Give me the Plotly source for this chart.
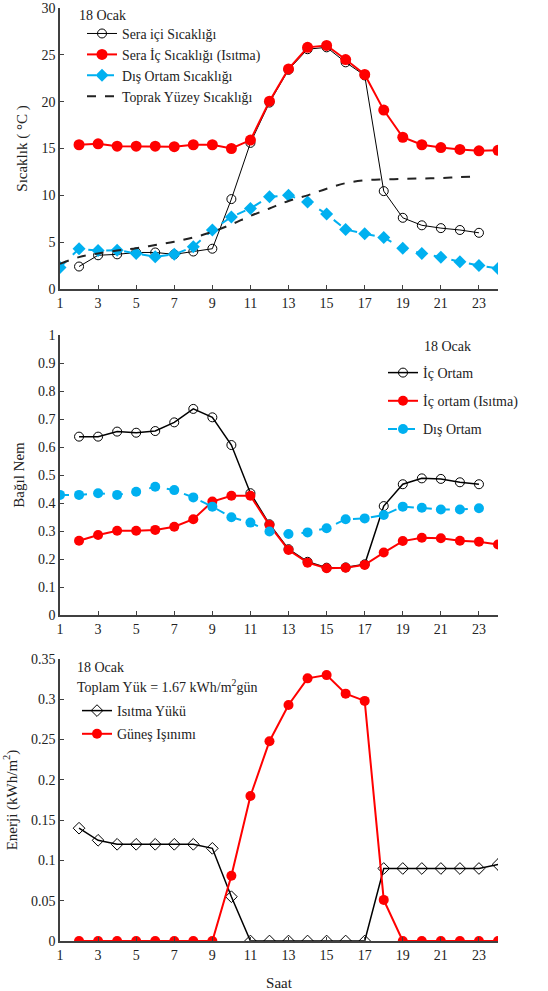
import plotly.graph_objects as go

# ---------------- data ----------------
hours_all = list(range(1, 25))
hours_2_23 = list(range(2, 24))
hours_2_24 = list(range(2, 25))
hours_1_23 = list(range(1, 24))

# Panel 1: temperature (°C)
sera_ici = [2.4, 3.6, 3.7, 3.9, 3.9, 3.7, 4.0, 4.3, 9.6, 15.6, 19.9, 23.4, 25.6, 25.8,
            24.2, 22.8, 10.45, 7.6, 6.8, 6.5, 6.3, 6.0]                       # h 2..23
sera_isitma = [15.4, 15.5, 15.25, 15.25, 15.25, 15.2, 15.4, 15.4, 15.0, 15.9, 20.05, 23.5,
               25.8, 26.0, 24.5, 22.9, 19.1, 16.2, 15.4, 15.1, 14.9, 14.75, 14.8]  # h 2..24
dis_ortam = [2.3, 4.3, 4.1, 4.15, 3.8, 3.45, 3.7, 4.5, 6.3, 7.7, 8.6, 9.85, 10.0, 9.3,
             8.0, 6.35, 5.9, 5.5, 4.35, 3.8, 3.4, 2.9, 2.5, 2.2]                # h 1..24
toprak = [2.7, 3.4, 3.8, 4.1, 4.35, 4.7, 5.05, 5.5, 6.1, 6.9, 7.8, 8.6, 9.4, 10.0, 10.7,
          11.3, 11.6, 11.7, 11.75, 11.8, 11.85, 11.95, 12.0]                     # h 1..23

# Panel 2: relative humidity
rh_ic = [0.637, 0.637, 0.655, 0.651, 0.657, 0.688, 0.736, 0.706, 0.607, 0.435, 0.324,
         0.235, 0.19, 0.169, 0.17, 0.181, 0.389, 0.467, 0.488, 0.486, 0.474, 0.467]   # h 2..23
rh_isitma = [0.265, 0.286, 0.301, 0.301, 0.304, 0.315, 0.342, 0.405, 0.426, 0.426, 0.321,
             0.232, 0.187, 0.167, 0.169, 0.179, 0.223, 0.264, 0.276, 0.274, 0.265, 0.262,
             0.252]                                                              # h 2..24
rh_dis = [0.429, 0.429, 0.435, 0.429, 0.44, 0.458, 0.446, 0.42, 0.387, 0.349, 0.33, 0.298,
          0.289, 0.295, 0.31, 0.342, 0.345, 0.357, 0.387, 0.383, 0.377, 0.377, 0.381]  # h 1..23

# Panel 3: energy (kWh/m2)
isitma_yuku = [0.14, 0.125, 0.12, 0.12, 0.12, 0.12, 0.12, 0.115, 0.055, 0, 0, 0, 0, 0, 0, 0,
               0.09, 0.09, 0.09, 0.09, 0.09, 0.09, 0.095]                         # h 2..24
gunes = [0, 0, 0, 0, 0, 0, 0, 0, 0.081, 0.18, 0.248, 0.293, 0.326, 0.33, 0.307, 0.298,
         0.051, 0, 0, 0, 0, 0, 0]                                                  # h 2..24

x_ticks = list(range(1, 24, 2))

# ---------------- figure ----------------
FONT = "Liberation Serif"
RED = "#FF0000"
BLUE = "#00B0F0"
AX = "#404040"
TXT = "#222222"

fig = go.Figure()

# Panel 1
fig.add_trace(go.Scatter(x=hours_2_23, y=sera_ici, name="Sera içi Sıcaklığı", mode="lines+markers",
                         line=dict(color="black", width=1),
                         marker=dict(symbol="circle-open", size=9, color="black", line=dict(width=1)),
                         xaxis="x", yaxis="y", legend="legend"))
fig.add_trace(go.Scatter(x=hours_2_24, y=sera_isitma, name="Sera İç Sıcaklığı (Isıtma)", mode="lines+markers",
                         line=dict(color=RED, width=2),
                         marker=dict(symbol="circle", size=11, color=RED),
                         xaxis="x", yaxis="y", legend="legend"))
fig.add_trace(go.Scatter(x=hours_all, y=dis_ortam, name="Dış Ortam Sıcaklığı", mode="lines+markers",
                         line=dict(color=BLUE, width=2, dash="dash"),
                         marker=dict(symbol="diamond", size=10, color=BLUE),
                         xaxis="x", yaxis="y", legend="legend"))
fig.add_trace(go.Scatter(x=hours_1_23, y=toprak, name="Toprak Yüzey Sıcaklığı", mode="lines",
                         line=dict(color="#222222", width=2, dash="dash", shape="spline"),
                         xaxis="x", yaxis="y", legend="legend"))

# Panel 2
fig.add_trace(go.Scatter(x=hours_2_23, y=rh_ic, name="İç Ortam", mode="lines+markers",
                         line=dict(color="black", width=1.5),
                         marker=dict(symbol="circle-open", size=9, color="black", line=dict(width=1)),
                         xaxis="x2", yaxis="y2", legend="legend2", legendgroup="a"))
fig.add_trace(go.Scatter(x=hours_2_24, y=rh_isitma, name="İç ortam (Isıtma)", mode="lines+markers",
                         line=dict(color=RED, width=2),
                         marker=dict(symbol="circle", size=10, color=RED),
                         xaxis="x2", yaxis="y2", legend="legend2", legendgroup="b"))
fig.add_trace(go.Scatter(x=hours_1_23, y=rh_dis, name="Dış Ortam", mode="lines+markers",
                         line=dict(color=BLUE, width=2, dash="dash"),
                         marker=dict(symbol="circle", size=10, color=BLUE),
                         xaxis="x2", yaxis="y2", legend="legend2", legendgroup="c"))

# Panel 3
fig.add_trace(go.Scatter(x=hours_2_24, y=isitma_yuku, name="Isıtma Yükü", mode="lines+markers",
                         line=dict(color="black", width=1.5),
                         marker=dict(symbol="diamond-open", size=9, color="black", line=dict(width=1)),
                         xaxis="x3", yaxis="y3", legend="legend3", legendgroup="d"))
fig.add_trace(go.Scatter(x=hours_2_24, y=gunes, name="Güneş Işınımı", mode="lines+markers",
                         line=dict(color=RED, width=2),
                         marker=dict(symbol="circle", size=10, color=RED),
                         xaxis="x3", yaxis="y3", legend="legend3", legendgroup="e"))

W, H = 548, 991
L, R, T, B = 60, 50, 8, 50
ph = H - T - B


def py(pix):
    return (H - B - pix) / ph


def px(pix):
    return (pix - L) / (W - L - R)


xcommon = dict(range=[1, 24], tickvals=x_ticks, showline=True, linecolor=AX, linewidth=1.5,
               ticks="inside", ticklen=4, tickcolor=AX, showgrid=False, zeroline=False,
               automargin=False, tickfont=dict(family=FONT, size=14, color=TXT))
ycommon = dict(showline=True, linecolor=AX, linewidth=1.5, ticks="inside", ticklen=4,
               tickcolor=AX, showgrid=False, zeroline=False, automargin=False,
               tickfont=dict(family=FONT, size=14, color=TXT))

legcommon = dict(bgcolor="rgba(0,0,0,0)", itemwidth=30, xanchor="left", yanchor="top")

fig.update_layout(
    width=W, height=H,
    margin=dict(l=L, r=R, t=T, b=B),
    paper_bgcolor="white", plot_bgcolor="white",
    font=dict(family=FONT, size=14, color=TXT),
    xaxis=dict(domain=[0, 1], anchor="y", **xcommon),
    yaxis=dict(domain=[py(289), 1], anchor="x", range=[0, 30], tickvals=[0, 5, 10, 15, 20, 25, 30],
               title=dict(text="Sıcaklık ( °C )", font=dict(family=FONT, size=15), standoff=10), **ycommon),
    xaxis2=dict(domain=[0, 1], anchor="y2", **xcommon),
    yaxis2=dict(domain=[py(615), py(335)], anchor="x2", range=[0, 1], dtick=0.1, tick0=0,
                title=dict(text="Bağıl Nem", font=dict(family=FONT, size=15), standoff=10), **ycommon),
    xaxis3=dict(domain=[0, 1], anchor="y3",
                title=dict(text="Saat", font=dict(family=FONT, size=15), standoff=17), **xcommon),
    yaxis3=dict(domain=[0, py(659)], anchor="x3", range=[0, 0.35], dtick=0.05, tick0=0,
                title=dict(text="Enerji (kWh/m<sup>2</sup>)", font=dict(family=FONT, size=15), standoff=10),
                **ycommon),
    legend=dict(x=px(82), y=py(18), font=dict(family=FONT, size=13.8, color=TXT),
                tracegroupgap=0, **legcommon),
    legend2=dict(x=px(383), y=py(357), font=dict(family=FONT, size=14, color=TXT),
                 tracegroupgap=7, **legcommon),
    legend3=dict(x=px(77), y=py(695), font=dict(family=FONT, size=14, color=TXT),
                 tracegroupgap=2, **legcommon),
    showlegend=True,
)

annots = [
    dict(text="18 Ocak", x=px(77), y=py(16), xanchor="left", yanchor="middle"),
    dict(text="18 Ocak", x=px(447), y=py(346), xanchor="center", yanchor="middle"),
    dict(text="18 Ocak", x=px(75), y=py(667), xanchor="left", yanchor="middle"),
    dict(text="Toplam Yük = 1.67 kWh/m<sup>2</sup>gün", x=px(75), y=py(686), xanchor="left", yanchor="middle"),
]
for a in annots:
    fig.add_annotation(xref="paper", yref="paper", showarrow=False,
                       font=dict(family=FONT, size=14, color=TXT), **a)

fig.write_html("out.html", config={"displayModeBar": False},
               post_script="document.body.style.margin='0px';")
